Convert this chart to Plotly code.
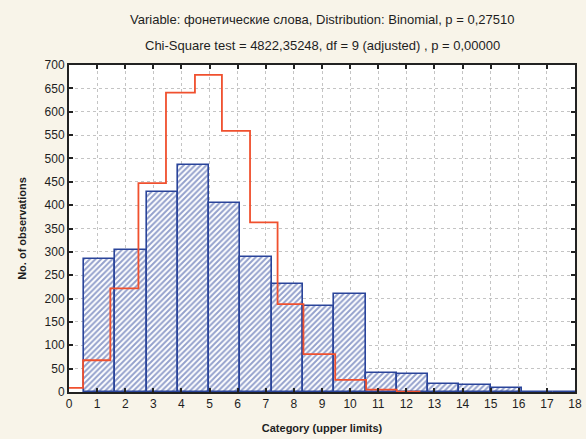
import plotly.graph_objects as go

# Histogram bins (category boundaries) and observed counts
bin_edges = [0.53, 1.64, 2.76, 3.87, 4.98, 6.10, 7.21, 8.32, 9.43, 10.55,
             11.66, 12.77, 13.89, 15.00, 16.11, 17.22, 18.34]
observed = [284, 303, 429, 486, 405, 290, 231, 185, 209, 40, 38, 17, 14, 8, 1, 1]

# Expected (binomial) step curve
expected_x = [0.0, 0.5, 1.47, 2.47, 3.45, 4.48, 5.44, 6.44, 7.42, 8.34, 9.47, 10.57, 11.66, 12.5]
expected_y = [9, 68, 222, 447, 641, 679, 559, 363, 188, 81, 26, 5, 1, 1]

x_ticks = list(range(0, 19))
y_ticks = list(range(0, 701, 50))

title1 = "Variable: фонетические слова, Distribution: Binomial, p = 0,27510"
title2 = "Chi-Square test = 4822,35248, df = 9 (adjusted) , p = 0,00000"

centers = [(a + b) / 2 for a, b in zip(bin_edges[:-1], bin_edges[1:])]
widths = [b - a for a, b in zip(bin_edges[:-1], bin_edges[1:])]

blue = "#2A449A"
red = "#F0502E"
font = "Liberation Sans, Arial, sans-serif"
txt = "#1E1E1E"
paper = "#F8F4E9"

fig = go.Figure()
fig.add_trace(go.Bar(
    x=centers, y=observed, width=widths,
    marker=dict(color="white",
                line=dict(color=blue, width=1.6),
                pattern=dict(shape="/", fgcolor=blue, bgcolor="white",
                             size=4, solidity=0.5)),
    showlegend=False,
))
fig.add_trace(go.Scatter(
    x=expected_x, y=expected_y, mode="lines",
    line=dict(color=red, width=1.8, shape="hv"),
    showlegend=False,
))

axis_common = dict(
    showgrid=True, gridcolor="#C4C4C4", griddash="dot", gridwidth=1,
    showline=True, linecolor="#222222", linewidth=2, mirror="ticks",
    ticks="inside", ticklen=4, tickwidth=1.5, tickcolor="#222222",
    zeroline=False, automargin=False,
    tickfont=dict(family=font, size=12, color=txt),
)

fig.update_xaxes(range=[0, 18], tickmode="array", tickvals=x_ticks,
                 title=dict(text="<b>Category (upper limits)</b>",
                            font=dict(family=font, size=11, color=txt),
                            standoff=14),
                 **axis_common)
fig.update_yaxes(range=[0, 700], tickmode="array", tickvals=y_ticks,
                 title=dict(text="<b>No. of observations</b>",
                            font=dict(family=font, size=11, color=txt),
                            standoff=16),
                 **axis_common)

fig.update_layout(
    width=586, height=439,
    margin=dict(l=69, r=11, t=65, b=47),
    paper_bgcolor=paper,
    plot_bgcolor="white",
    bargap=0,
)
plot_h = 439 - 65 - 47
fig.add_annotation(text=title1, x=0.5, xref="paper", xanchor="center",
                   y=1 + (65 - 20) / plot_h, yref="paper", yanchor="middle",
                   showarrow=False, font=dict(family=font, size=13, color=txt))
fig.add_annotation(text=title2, x=0.5, xref="paper", xanchor="center",
                   y=1 + (65 - 45) / plot_h, yref="paper", yanchor="middle",
                   showarrow=False, font=dict(family=font, size=13, color=txt))

fig.write_html(
    "out.html",
    config={"displayModeBar": False},
    post_script="document.body.style.margin='0';document.body.style.background='%s';" % paper,
)
